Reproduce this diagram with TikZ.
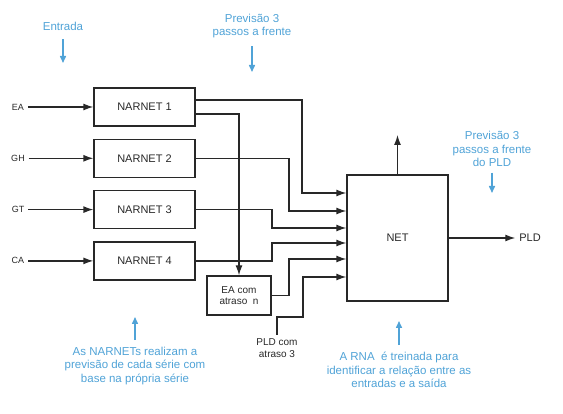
\documentclass[tikz,border=0pt]{standalone}
\usepackage{fontspec}
\setmainfont{Liberation Sans}
\usetikzlibrary{arrows.meta,positioning}
\definecolor{linegray}{RGB}{40,40,40}
\definecolor{noteblue}{RGB}{80,163,215}

\begin{document}
\begin{tikzpicture}[x=1pt,y=-1pt,line width=1.3pt,linegray,
    >={Latex[length=10pt,width=7pt]},
    block/.style={draw,minimum width=101pt,minimum height=38pt,font=\fontsize{11}{13}\selectfont},
    inlabel/.style={font=\fontsize{9}{11}\selectfont},
    small/.style={align=center,font=\fontsize{10}{11.5}\selectfont},
    note/.style={text=noteblue,align=center,font=\fontsize{11.5}{13.5}\selectfont},
    notearrow/.style={draw=noteblue,line width=1.5pt,-{Triangle[length=7pt,width=6pt]}}]
      \useasboundingbox (0,0) rectangle (563,414);

      \node[block]                  (n1) at (144.5,107) {NARNET 1};
      \node[block,below=12pt of n1] (n2)                {NARNET 2};
      \node[block,below=12pt of n2] (n3)                {NARNET 3};
      \node[block,below=12pt of n3] (n4)                {NARNET 4};
      \node[block,minimum height=126pt] (net) at (397.5,238) {NET};
      \node[block,small,minimum width=64pt,minimum height=39pt] (eadelay) at (239,295.5) {EA com\\atraso\ \ n};

      \node[inlabel] (ea) at (n1 -| 18,0) {EA};
      \node[inlabel] (gh) at (n2 -| 18,0) {GH};
      \node[inlabel] (gt) at (n3 -| 18,0) {GT};
      \node[inlabel] (ca) at (n4 -| 18,0) {CA};
      \node[font=\fontsize{11}{13}\selectfont] (pld) at (net -| 530,0) {PLD};
      \node[small] (plddelay) at (277,348) {PLD com\\atraso 3};
      \coordinate (netup) at (397.5,135);

      \draw[->] (ea) -- (n1);
      \draw[->] (gh) -- (n2);
      \draw[->] (gt) -- (n3);
      \draw[->] (ca) -- (n4);
      \draw[->] (net) -- (pld);
      \draw[->] (net) -- (netup);

      \draw[->] ([yshift=7pt]n1.east) -| (302,193) -- (net.west |- 0,193);
      \draw[->] ([yshift=-7pt]n1.east) -| (eadelay.north);
      \draw[->] (n2.east) -| (289,211) -- (net.west |- 0,211);
      \draw[->] (n3.east) -| (272,228) -- (net.west |- 0,228);
      \draw[->] (n4.east) -| (272,243) -- (net.west |- 0,243);
      \draw[->] (eadelay.east) -| (289,259) -- (net.west |- 0,259);
      \draw[->] (plddelay.north) |- (303,317) |- (net.west |- 0,277);

      \node[note] (entrada) at (63,26)    {Entrada};
      \node[note] (prev)    at (252,26)   {Previsão 3\\passos a frente};
      \node[note] (prevpld) at (492,149)  {Previsão 3\\passos a frente\\do PLD};
      \node[note] (narnote) at (135,366)  {As NARNETs realizam a\\previsão de cada série com\\base na própria série};
      \node[note] (rnanote) at (399,370)  {A RNA\ \ é treinada para\\identificar a relação entre as\\entradas e a saída};
      \coordinate (entradatip) at (63,63);
      \coordinate (prevtip)    at (252,72);
      \coordinate (prevpldtip) at (492,193);
      \coordinate (nartip)     at (135,317);
      \coordinate (rnatip)     at (399,321);

      \draw[notearrow,shorten <=5pt] (entrada) -- (entradatip);
      \draw[notearrow,shorten <=4pt] (prev) -- (prevtip);
      \draw[notearrow,shorten <=2pt] (prevpld) -- (prevpldtip);
      \draw[notearrow,shorten <=3pt] (narnote) -- (nartip);
      \draw[notearrow,shorten <=3pt] (rnanote) -- (rnatip);
    \end{tikzpicture}
\end{document}
